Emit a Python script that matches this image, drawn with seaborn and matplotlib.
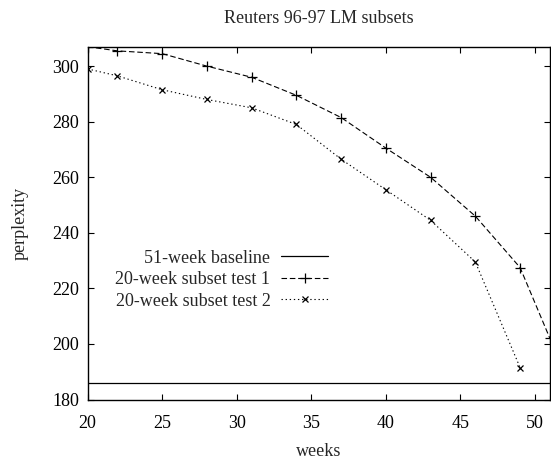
import numpy as np
import pandas as pd
import matplotlib
matplotlib.use('Agg')
import matplotlib.pyplot as plt
import seaborn as sns

# values
weeks = [20, 22, 25, 28, 31, 34, 37, 40, 43, 46, 49, 51]
test1 = [307.0, 305.5, 304.5, 300.0, 296.0, 289.5, 281.5, 270.5, 260.0, 246.0, 227.5, 202.0]
weeks2 = [20, 22, 25, 28, 31, 34, 37, 40, 43, 46, 49]
test2 = [299.0, 296.5, 291.5, 288.0, 285.0, 279.0, 266.5, 255.5, 244.5, 229.5, 191.5]
baseline_weeks = [20, 51]
baseline = [185.8, 185.8]

sns.set_theme(style='ticks')
plt.rcParams['font.family'] = ['Liberation Serif', 'DejaVu Serif']
plt.rcParams['font.size'] = 13

fig = plt.figure(figsize=(5.51, 4.61), dpi=100)
ax = fig.add_axes([0.159, 0.1334, 0.839, 0.7653])

sns.lineplot(x=baseline_weeks, y=baseline, ax=ax, color='black', lw=0.9,
             label='51-week baseline')
sns.lineplot(x=weeks, y=test1, ax=ax, color='black', lw=0.8, linestyle=(0, (5, 2.5)),
             marker='+', markersize=7, markeredgewidth=0.9, markeredgecolor='black',
             label='20-week subset test 1')
sns.lineplot(x=weeks2, y=test2, ax=ax, color='black', lw=0.8, linestyle=(0, (1.2, 2.5)),
             marker='x', markersize=5, markeredgewidth=0.9, markeredgecolor='black',
             label='20-week subset test 2')

ax.set_xlim(20, 51)
ax.set_ylim(180, 307)
ax.set_xticks([20, 25, 30, 35, 40, 45, 50])
ax.set_yticks([180, 200, 220, 240, 260, 280, 300])
ax.tick_params(direction='in', top=True, right=True, length=4.5, width=0.8,
               labelsize=13, colors='black', pad=6)
ax.tick_params(axis='x', pad=11)
for s in ax.spines.values():
    s.set_color('black')
    s.set_linewidth(1.0)

ax.set_xlabel('weeks', fontsize=13, labelpad=8)
ax.set_ylabel('perplexity', fontsize=13, labelpad=17)
ax.set_title('Reuters 96-97 LM subsets', fontsize=13, pad=17)

leg = ax.legend(loc='center right', bbox_to_anchor=(0.54, 0.34), frameon=False,
                markerfirst=False, handlelength=2.6, handletextpad=0.6,
                labelspacing=0.25, borderpad=0, fontsize=13)

fig.savefig('out.png', dpi=100)
